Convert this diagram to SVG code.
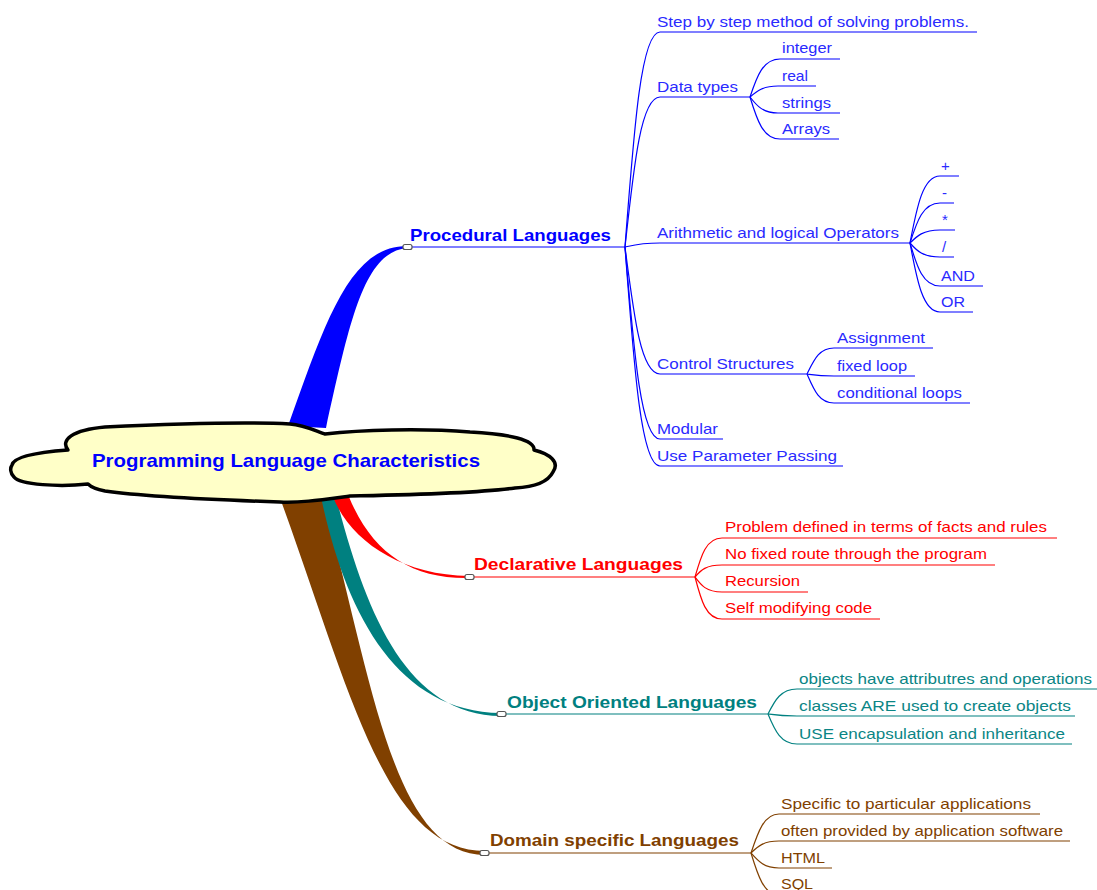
<svg xmlns="http://www.w3.org/2000/svg" width="1097" height="890" viewBox="0 0 1097 890">
<style>
text{font-family:"Liberation Sans",Arial,sans-serif}
.t{font-size:15px}
.b{font-size:17px;font-weight:bold}
.c{font-size:19px;font-weight:bold;fill:#0000FF}
.l{fill:none;stroke-width:1.2}
.bl{stroke:#0000FF}.rd{stroke:#FF0000}.tl{stroke:#008080}.br{stroke:#804000}
.tb{fill:#2a2aff}.tr{fill:#FF0000}.tt{fill:#0a8585}.tw{fill:#804000}
.knob{fill:#fff;stroke:#555;stroke-width:1.2}
</style>
<rect width="1097" height="890" fill="#fff"/>
<g id="connectors">
  <!-- thick main branches -->
  <path fill="#804000" d="M280,498 C350,690 385,851 485,851 L485,855 C393,855 372,680 323,498 Z"/>
  <path fill="#008080" d="M321,497 C345,610 395,712 501,713 L501,716 C405,715 365,610 336,497 Z"/>
  <path fill="#FF0000" d="M333,497 C350,540 400,575 469,576 L469,578 C410,579 372,552 349,497 Z"/>
  <path fill="#0000FF" d="M288,426 C326,320 350,246 407,246 L407,248 C364,252 350,320 326,428 Z"/>
  <!-- procedural -->
  <g class="l bl">
    <path d="M411,247 H625"/>
    <path d="M625,247 C634,129 641,32 660,32 H977"/>
    <path d="M625,247 C634,164 641,97 660,97 H750"/>
    <path d="M625,247 C634,245 641,243 660,243 H910"/>
    <path d="M625,247 C634,317 641,374 660,374 H807"/>
    <path d="M625,247 C634,353 641,439 660,439 H723"/>
    <path d="M625,247 C634,367 641,466 660,466 H843"/>
    <path d="M750,97 C757,76 763,59 780,59 H840"/>
    <path d="M750,97 C757,91 763,86 778,86 H816"/>
    <path d="M750,97 C757,106 763,113 778,113 H840"/>
    <path d="M750,97 C757,120 763,139 780,139 H839"/>
    <path d="M910,243 C917,206 923,176 940,176 H959"/>
    <path d="M910,243 C917,221 923,203 940,203 H954"/>
    <path d="M910,243 C917,236 923,230 940,230 H955"/>
    <path d="M910,243 C917,251 923,257 940,257 H954"/>
    <path d="M910,243 C917,267 923,286 940,286 H983"/>
    <path d="M910,243 C917,281 923,312 940,312 H973"/>
    <path d="M807,374 C814,360 819,348 834,348 H933"/>
    <path d="M807,374 C814,375 819,376 834,376 H915"/>
    <path d="M807,374 C814,390 819,403 834,403 H970"/>
  </g>
  <!-- declarative -->
  <g class="l rd">
    <path d="M473,577 H695"/>
    <path d="M695,577 C701,556 706,538 722,538 H1057"/>
    <path d="M695,577 C701,570 706,565 722,565 H995"/>
    <path d="M695,577 C701,585 706,592 722,592 H808"/>
    <path d="M695,577 C701,600 706,619 722,619 H880"/>
  </g>
  <!-- object oriented -->
  <g class="l tl">
    <path d="M505,714 H768"/>
    <path d="M768,714 C775,700 781,689 797,689 H1097"/>
    <path d="M768,714 C775,715 781,716 797,716 H1075"/>
    <path d="M768,714 C775,731 781,744 797,744 H1072"/>
  </g>
  <!-- domain specific -->
  <g class="l br">
    <path d="M488,853 H751"/>
    <path d="M751,853 C758,832 764,814 779,814 H1040"/>
    <path d="M751,853 C758,846 764,841 779,841 H1070"/>
    <path d="M751,853 C758,861 764,868 779,868 H832"/>
    <path d="M751,853 C758,876 764,895 779,895 H820"/>
  </g>
  <rect class="knob" x="403" y="244.5" width="9" height="5" rx="2"/>
  <rect class="knob" x="465" y="574.5" width="9" height="5" rx="2"/>
  <rect class="knob" x="497" y="711.5" width="9" height="5" rx="2"/>
  <rect class="knob" x="480" y="850.5" width="9" height="5" rx="2"/>
</g>
<g id="root">
  <path d="M12,465 C14,456 40,452 68,450 C60,440 72,430 105,427 C170,424 250,422 290,424 C305,425 318,432 325,434 C360,430 420,428 470,432 C510,434 535,440 534,450 C550,454 560,462 553,472 C548,482 535,487 515,488 C470,494 400,495 350,496 C320,500 300,503 280,502 C220,500 140,496 105,491 C95,489 90,486 88,484 C60,487 20,485 14,477 C10,473 10,468 12,465 Z" fill="#FFFFC8" stroke="#000" stroke-width="3.5" stroke-linejoin="round"/>
  <text class="c" x="92" y="467" textLength="388" lengthAdjust="spacingAndGlyphs">Programming Language Characteristics</text>
</g>
<g id="procedural"><text class="b" x="410" y="241" fill="#0000FF" textLength="201" lengthAdjust="spacingAndGlyphs">Procedural Languages</text></g>
<g id="step"><text class="t tb" x="657" y="27" textLength="312" lengthAdjust="spacingAndGlyphs">Step by step method of solving problems.</text></g>
<g id="datatypes"><text class="t tb" x="657" y="92" textLength="81" lengthAdjust="spacingAndGlyphs">Data types</text></g>
<g id="integer"><text class="t tb" x="782" y="53" textLength="50" lengthAdjust="spacingAndGlyphs">integer</text></g>
<g id="real"><text class="t tb" x="782" y="81" textLength="26" lengthAdjust="spacingAndGlyphs">real</text></g>
<g id="strings"><text class="t tb" x="782" y="108" textLength="49" lengthAdjust="spacingAndGlyphs">strings</text></g>
<g id="arrays"><text class="t tb" x="782" y="134" textLength="48" lengthAdjust="spacingAndGlyphs">Arrays</text></g>
<g id="arith"><text class="t tb" x="657" y="238" textLength="242" lengthAdjust="spacingAndGlyphs">Arithmetic and logical Operators</text></g>
<g id="plus"><text class="t tb" x="941" y="171">+</text></g>
<g id="minus"><text class="t tb" x="942" y="198">-</text></g>
<g id="times"><text class="t tb" x="942" y="225">*</text></g>
<g id="divide"><text class="t tb" x="942" y="252">/</text></g>
<g id="and"><text class="t tb" x="941" y="281" textLength="34" lengthAdjust="spacingAndGlyphs">AND</text></g>
<g id="or"><text class="t tb" x="941" y="307" textLength="24" lengthAdjust="spacingAndGlyphs">OR</text></g>
<g id="control"><text class="t tb" x="657" y="369" textLength="137" lengthAdjust="spacingAndGlyphs">Control Structures</text></g>
<g id="assignment"><text class="t tb" x="837" y="343" textLength="88" lengthAdjust="spacingAndGlyphs">Assignment</text></g>
<g id="fixedloop"><text class="t tb" x="837" y="371" textLength="70" lengthAdjust="spacingAndGlyphs">fixed loop</text></g>
<g id="condloops"><text class="t tb" x="837" y="398" textLength="125" lengthAdjust="spacingAndGlyphs">conditional loops</text></g>
<g id="modular"><text class="t tb" x="657" y="434" textLength="61" lengthAdjust="spacingAndGlyphs">Modular</text></g>
<g id="params"><text class="t tb" x="657" y="461" textLength="180" lengthAdjust="spacingAndGlyphs">Use Parameter Passing</text></g>
<g id="declarative"><text class="b" x="474" y="570" fill="#FF0000" textLength="209" lengthAdjust="spacingAndGlyphs">Declarative Languages</text></g>
<g id="facts"><text class="t tr" x="725" y="532" textLength="322" lengthAdjust="spacingAndGlyphs">Problem defined in terms of facts and rules</text></g>
<g id="route"><text class="t tr" x="725" y="559" textLength="262" lengthAdjust="spacingAndGlyphs">No fixed route through the program</text></g>
<g id="recursion"><text class="t tr" x="725" y="586" textLength="75" lengthAdjust="spacingAndGlyphs">Recursion</text></g>
<g id="selfmod"><text class="t tr" x="725" y="613" textLength="147" lengthAdjust="spacingAndGlyphs">Self modifying code</text></g>
<g id="oo"><text class="b" x="507" y="708" fill="#008080" textLength="250" lengthAdjust="spacingAndGlyphs">Object Oriented Languages</text></g>
<g id="objects"><text class="t tt" x="799" y="684" textLength="293" lengthAdjust="spacingAndGlyphs">objects have attributres and operations</text></g>
<g id="classes"><text class="t tt" x="799" y="711" textLength="272" lengthAdjust="spacingAndGlyphs">classes ARE used to create objects</text></g>
<g id="encap"><text class="t tt" x="799" y="739" textLength="266" lengthAdjust="spacingAndGlyphs">USE encapsulation and inheritance</text></g>
<g id="domain"><text class="b" x="490" y="846" fill="#804000" textLength="249" lengthAdjust="spacingAndGlyphs">Domain specific Languages</text></g>
<g id="specific"><text class="t tw" x="781" y="809" textLength="250" lengthAdjust="spacingAndGlyphs">Specific to particular applications</text></g>
<g id="often"><text class="t tw" x="781" y="836" textLength="282" lengthAdjust="spacingAndGlyphs">often provided by application software</text></g>
<g id="html"><text class="t tw" x="781" y="863" textLength="44" lengthAdjust="spacingAndGlyphs">HTML</text></g>
<g id="sql"><text class="t tw" x="781" y="889" textLength="32" lengthAdjust="spacingAndGlyphs">SQL</text></g>
</svg>
